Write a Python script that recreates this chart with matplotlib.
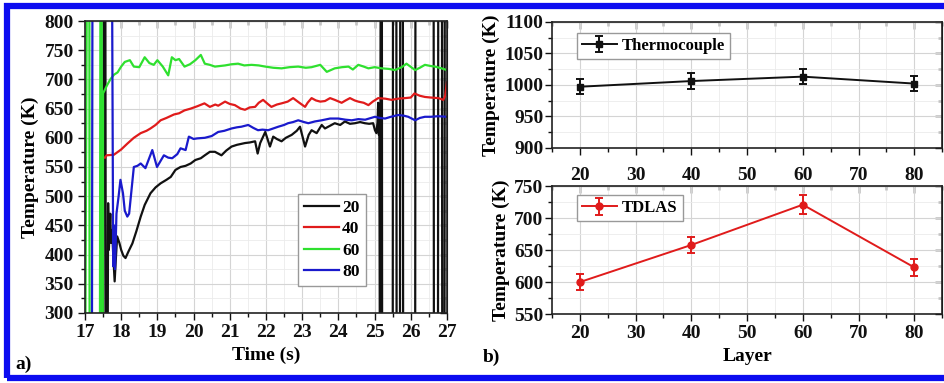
import matplotlib
matplotlib.use("Agg")
import matplotlib.pyplot as plt
from matplotlib.ticker import MultipleLocator
from matplotlib.patches import Rectangle

plt.rcParams['font.family'] = ['Liberation Serif', 'DejaVu Serif']
plt.rcParams['font.weight'] = 'bold'
plt.rcParams['axes.labelweight'] = 'bold'

# ---- panel a: temperature traces per layer (off-scale readings kept as 100 / 1000) ----
t20 = [17.0, 17.5, 17.52, 17.56, 17.58, 17.62, 17.64, 17.66, 17.7, 17.72, 17.75, 17.78, 17.82, 17.86,
       17.89, 17.95, 18.0, 18.06, 18.12, 18.2, 18.31, 18.42, 18.54, 18.65, 18.81, 18.95, 19.09, 19.25,
       19.37, 19.5, 19.64, 19.78, 19.92, 20.05, 20.2, 20.31, 20.45, 20.59, 20.77, 20.9, 21.05, 21.2,
       21.42, 21.55, 21.7, 21.77, 21.84, 21.98, 22.11, 22.2, 22.3, 22.43, 22.55, 22.71, 22.85, 22.94,
       23.08, 23.18, 23.26, 23.4, 23.54, 23.63, 23.72, 23.9, 24.05, 24.18, 24.32, 24.46, 24.6, 24.73,
       24.85, 24.96, 25.01, 25.05, 25.08, 25.1, 25.12, 25.13, 25.15, 25.17, 25.2, 25.21, 25.5, 25.51,
       25.6, 25.61, 25.7, 25.71, 25.78, 25.79, 26.12, 26.13, 26.63, 26.64, 26.75, 26.76, 26.86, 26.87,
       26.93, 26.94, 27.0]
T20 = [100, 100, 1000, 1000, 100, 100, 488, 408, 470, 420, 442, 400, 354, 400,
       431, 420, 408, 398, 394, 405, 419, 440, 465, 485, 505, 515, 522, 528,
       533, 545, 550, 552, 556, 562, 565, 570, 576, 576, 570, 578, 585, 588,
       591, 592, 594, 573, 591, 610, 585, 602, 598, 594, 600, 605, 612, 619,
       585, 605, 613, 608, 622, 616, 619, 625, 622, 628, 624, 625, 627, 625,
       624, 625, 613, 608, 626, 660, 605, 650, 100, 1000, 1000, 100, 100, 1000,
       1000, 100, 100, 1000, 1000, 100, 100, 1000, 1000, 100, 100, 1000, 1000, 100,
       100, 1000, 1000]

t40 = [17.55, 17.6, 17.8, 18.0, 18.17, 18.35, 18.54, 18.7, 18.81, 18.95, 19.09, 19.25, 19.46, 19.6,
       19.75, 19.92, 20.1, 20.3, 20.45, 20.6, 20.68, 20.87, 21.0, 21.14, 21.3, 21.42, 21.55, 21.7,
       21.8, 21.92, 22.05, 22.15, 22.3, 22.43, 22.6, 22.75, 22.9, 23.08, 23.15, 23.26, 23.38, 23.5,
       23.63, 23.77, 23.9, 24.09, 24.2, 24.32, 24.45, 24.55, 24.7, 24.83, 24.95, 25.1, 25.3, 25.47,
       25.65, 25.84, 26.0, 26.1, 26.25, 26.39, 26.55, 26.76, 26.9, 26.95, 27.0]
T40 = [566, 570, 571, 580, 590, 600, 608, 612, 616, 622, 630, 634, 640, 642,
       647, 650, 654, 659, 653, 657, 655, 662, 658, 656, 650, 648, 652, 653,
       660, 665, 658, 653, 657, 659, 662, 668, 661, 653, 660, 668, 664, 662,
       663, 668, 665, 660, 664, 668, 664, 662, 660, 656, 662, 668, 667, 665,
       667, 668, 669, 676, 672, 670, 669, 668, 665, 672, 695]

t60 = [17.0, 17.06, 17.12, 17.13, 17.41, 17.43, 17.46, 17.47, 17.49, 17.5, 17.61, 17.7, 17.8, 17.9,
       18.0, 18.1, 18.24, 18.35, 18.5, 18.65, 18.78, 18.9, 19.0, 19.15, 19.3, 19.4, 19.5, 19.6,
       19.75, 19.9, 20.05, 20.2, 20.31, 20.45, 20.59, 20.87, 21.05, 21.23, 21.4, 21.6, 21.8, 21.98,
       22.2, 22.43, 22.65, 22.89, 23.1, 23.26, 23.5, 23.68, 23.9, 24.1, 24.28, 24.4, 24.55, 24.7,
       24.83, 25.0, 25.2, 25.4, 25.56, 25.75, 25.88, 26.12, 26.25, 26.39, 26.55, 26.67, 26.85, 27.0]
T60 = [100, 1000, 1000, 100, 100, 1000, 1000, 100, 100, 676, 690, 700, 708, 712,
       722, 730, 733, 722, 721, 738, 728, 725, 733, 722, 707, 738, 733, 735,
       722, 726, 733, 742, 727, 725, 722, 724, 726, 727, 724, 725, 724, 722,
       720, 719, 721, 722, 720, 721, 725, 713, 719, 721, 722, 717, 725, 722,
       719, 721, 719, 718, 716, 721, 727, 716, 720, 725, 723, 722, 719, 716]

t80 = [17.0, 17.19, 17.21, 17.74, 17.78, 17.8, 17.83, 17.87, 17.93, 17.98, 18.05, 18.1, 18.17, 18.22,
       18.35, 18.45, 18.54, 18.67, 18.86, 18.99, 19.18, 19.3, 19.41, 19.55, 19.64, 19.78, 19.87, 20.0,
       20.1, 20.31, 20.5, 20.68, 20.85, 21.05, 21.2, 21.32, 21.51, 21.65, 21.78, 21.9, 22.06, 22.2,
       22.34, 22.5, 22.61, 22.75, 22.89, 23.05, 23.17, 23.35, 23.54, 23.77, 24.0, 24.2, 24.37, 24.55,
       24.74, 25.01, 25.15, 25.29, 25.45, 25.65, 25.8, 25.93, 26.12, 26.25, 26.39, 26.55, 26.76, 27.0]
T80 = [100, 100, 1000, 1000, 380, 450, 375, 470, 500, 528, 505, 475, 465, 470,
       550, 552, 556, 548, 579, 550, 570, 566, 565, 572, 582, 579, 602, 598,
       599, 600, 603, 610, 612, 616, 618, 619, 622, 617, 613, 614, 613, 616,
       619, 622, 625, 627, 630, 627, 625, 628, 630, 633, 633, 631, 630, 632,
       631, 636, 634, 633, 636, 639, 638, 636, 630, 634, 636, 636, 637, 636]

# ---- panel b: mean temperature vs layer ----
layers = [20, 40, 60, 80]
tc_temp = [997, 1006, 1013, 1002]
tc_err = [12, 12, 12, 12]
tdlas_temp = [600, 658, 721, 623]
tdlas_err = [12, 13, 15, 13]

BLACK = '#111111'
RED = '#e01b1b'
GREEN = '#2fe02f'
BLUE = '#1a1acc'
TICK_FS = 14
LABEL_FS = 14


def style_axes(ax, xmajor, xminor, ymajor, yminor, ypad=3, xpad=3):
    ax.xaxis.set_major_locator(MultipleLocator(xmajor))
    ax.xaxis.set_minor_locator(MultipleLocator(xminor))
    ax.yaxis.set_major_locator(MultipleLocator(ymajor))
    ax.yaxis.set_minor_locator(MultipleLocator(yminor))
    ax.grid(which='major', color='#d4d4d4', lw=0.8)
    ax.grid(which='minor', color='#ebebeb', lw=0.6)
    ax.set_axisbelow(True)
    ax.tick_params(which='both', direction='out', width=1.0, labelsize=TICK_FS, colors='#111111')
    ax.tick_params(which='major', length=5)
    ax.tick_params(which='minor', length=3)
    ax.tick_params(axis='y', pad=ypad)
    ax.tick_params(axis='x', pad=xpad)
    for s in ax.spines.values():
        s.set_linewidth(1.2)
        s.set_color('#222222')
    # mirrored ticks on top/right pointing inward
    top = ax.secondary_xaxis('top')
    top.xaxis.set_major_locator(MultipleLocator(xmajor))
    top.xaxis.set_minor_locator(MultipleLocator(xminor))
    top.tick_params(which='both', direction='in', labeltop=False, width=1.0)
    top.tick_params(which='major', length=5)
    top.tick_params(which='minor', length=3)
    right = ax.secondary_yaxis('right')
    right.yaxis.set_major_locator(MultipleLocator(ymajor))
    right.yaxis.set_minor_locator(MultipleLocator(yminor))
    right.tick_params(which='both', direction='in', labelright=False, width=1.0)
    right.tick_params(which='major', length=5)
    right.tick_params(which='minor', length=3)


fig = plt.figure(figsize=(9.44, 3.83), dpi=100)

ax1 = fig.add_axes([0.090, 0.183, 0.3835, 0.762])
ax1.plot(t20, T20, color=BLACK, lw=1.6, label='20')
ax1.plot(t40, T40, color=RED, lw=1.6, label='40')
ax1.plot(t60, T60, color=GREEN, lw=1.6, label='60')
ax1.plot(t80, T80, color=BLUE, lw=1.6, label='80')
ax1.set_xlim(17, 27)
ax1.set_ylim(300, 800)
style_axes(ax1, 1, 0.5, 50, 25)
ax1.set_xlabel('Time (s)', fontsize=LABEL_FS, labelpad=4)
ax1.set_ylabel('Temperature (K)', fontsize=LABEL_FS, labelpad=4)
ax1.legend(loc='upper left', bbox_to_anchor=(0.588, 0.408), borderaxespad=0,
           fancybox=False, edgecolor='#999999', framealpha=1, fontsize=12.5,
           handlelength=2.0, handletextpad=0.2, labelspacing=0.3, borderpad=0.35)

ax2 = fig.add_axes([0.5847, 0.614, 0.4133, 0.329])
ax2.errorbar(layers, tc_temp, yerr=tc_err, color=BLACK, lw=1.4, marker='s', ms=5,
             capsize=3, elinewidth=1.4, capthick=1.4, label='Thermocouple')
ax2.set_xlim(15, 85)
ax2.set_ylim(900, 1100)
style_axes(ax2, 10, 5, 50, 25, ypad=1, xpad=9)
ax2.set_ylabel('Temperature (K)', fontsize=LABEL_FS, labelpad=3)
ax2.legend(loc='upper left', bbox_to_anchor=(0.064, 0.913), borderaxespad=0,
           fancybox=False, edgecolor='#999999', framealpha=1, fontsize=12,
           handlelength=2.1, handletextpad=0.3, borderpad=0.3)

ax3 = fig.add_axes([0.5847, 0.180, 0.4133, 0.334])
ax3.errorbar(layers, tdlas_temp, yerr=tdlas_err, color=RED, lw=1.4, marker='o', ms=5,
             capsize=3, elinewidth=1.4, capthick=1.4, label='TDLAS')
ax3.set_xlim(15, 85)
ax3.set_ylim(550, 750)
style_axes(ax3, 10, 5, 50, 25, ypad=1)
ax3.set_xlabel('Layer', fontsize=LABEL_FS, labelpad=4)
ax3.set_ylabel('Temperature (K)', fontsize=LABEL_FS, labelpad=3)
ax3.legend(loc='upper left', bbox_to_anchor=(0.064, 0.93), borderaxespad=0,
           fancybox=False, edgecolor='#999999', framealpha=1, fontsize=12,
           handlelength=2.1, handletextpad=0.3, borderpad=0.3)

fig.text(15 / 944, 1 - 364 / 383, 'a)', fontsize=LABEL_FS, va='center', ha='left')
fig.text(483 / 944, 1 - 357 / 383, 'b)', fontsize=LABEL_FS, va='center', ha='left')

# blue frame around the figure
fig.add_artist(Rectangle((6.5 / 944, 5 / 383), 1.0, 1 - 10.5 / 383, transform=fig.transFigure,
                         fill=False, edgecolor='#0c0cf0', lw=4.5, clip_on=False))

fig.savefig('out.png', dpi=100)
